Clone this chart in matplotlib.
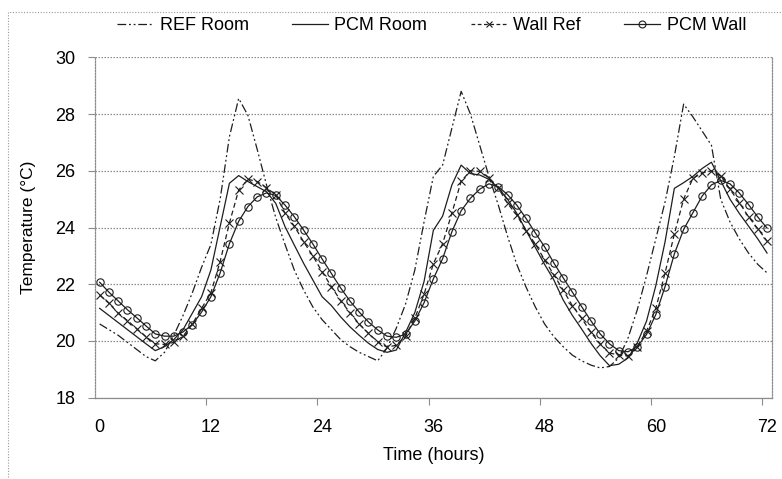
import matplotlib
matplotlib.use("Agg")
import matplotlib.pyplot as plt
from matplotlib.lines import Line2D
from matplotlib.patches import Rectangle

plt.rcParams['font.family'] = ['Liberation Sans', 'DejaVu Sans']

hours = list(range(73))

ref_room = [20.6, 20.4, 20.2, 19.95, 19.7, 19.45, 19.3, 19.6, 20.2, 20.9,
            21.7, 22.6, 23.4, 25.0, 27.2, 28.55, 27.95, 26.75, 25.5, 24.35,
            23.4, 22.5, 21.8, 21.2, 20.75, 20.4, 20.05, 19.8, 19.6, 19.45,
            19.3, 19.75, 20.45, 21.3, 22.5, 24.2, 25.8, 26.2, 27.5, 28.8,
            28.0, 26.9, 25.8, 24.8, 23.7, 22.7, 21.9, 21.2, 20.6, 20.15,
            19.8, 19.5, 19.3, 19.15, 19.05, 19.1, 19.4, 20.1, 21.1, 22.3,
            23.6, 24.9, 26.5, 28.35, 27.9, 27.4, 26.9, 25.0, 24.2, 23.6,
            23.1, 22.7, 22.4]

pcm_room = [21.15, 20.9, 20.65, 20.4, 20.15, 19.9, 19.66, 19.8, 20.05, 20.4,
            20.98, 21.56, 22.5, 24.03, 25.56, 25.83, 25.62, 25.44, 25.26, 24.85,
            24.03, 23.38, 22.74, 22.15, 21.56, 21.25, 20.85, 20.5, 20.2, 19.92,
            19.7, 19.6, 19.68, 20.3, 21.0, 22.1, 23.9, 24.4, 25.5, 26.2,
            25.9, 25.85, 25.7, 25.4, 25.0, 24.5, 23.9, 23.3, 22.7, 22.15,
            21.45, 20.9, 20.42, 19.92, 19.48, 19.13, 19.18, 19.4, 19.93, 20.7,
            21.95, 23.5, 25.38, 25.58, 25.8, 26.08, 26.3, 25.65, 25.0, 24.5,
            24.05, 23.6, 23.1]

wall_ref = [21.62, 21.33, 20.98, 20.72, 20.43, 20.15, 19.9, 19.88, 19.95, 20.17,
            20.6, 21.15, 21.7, 22.8, 24.16, 25.32, 25.7, 25.62, 25.4, 25.15,
            24.5, 24.05, 23.5, 23.0, 22.44, 21.92, 21.42, 21.0, 20.6, 20.27,
            19.97, 19.78, 19.85, 20.17, 20.8, 21.65, 22.72, 23.43, 24.51, 25.63,
            26.0, 25.98, 25.75, 25.4, 24.85, 24.44, 23.88, 23.42, 22.86, 22.33,
            21.8, 21.24, 20.8, 20.3, 19.9, 19.58, 19.5, 19.47, 19.8, 20.35,
            21.15, 22.4, 23.77, 25.0, 25.73, 25.92, 26.0, 25.82, 25.35, 24.88,
            24.38, 23.96, 23.52]

pcm_wall = [22.07, 21.72, 21.41, 21.1, 20.82, 20.53, 20.25, 20.17, 20.17, 20.32,
            20.58, 21.02, 21.56, 22.4, 23.43, 24.22, 24.74, 25.08, 25.22, 25.13,
            24.79, 24.38, 23.91, 23.42, 22.89, 22.38, 21.87, 21.41, 21.02, 20.67,
            20.39, 20.17, 20.13, 20.24, 20.7, 21.35, 22.19, 22.9, 23.85, 24.59,
            25.03, 25.35, 25.54, 25.44, 25.16, 24.79, 24.32, 23.81, 23.32, 22.75,
            22.23, 21.72, 21.21, 20.71, 20.25, 19.9, 19.66, 19.62, 19.8, 20.23,
            20.93, 21.92, 23.07, 23.93, 24.52, 25.11, 25.5, 25.66, 25.54, 25.22,
            24.81, 24.37, 23.98]

x_labels = [0, 12, 24, 36, 48, 60, 72]
y_ticks = [18, 20, 22, 24, 26, 28, 30]

ink = '#1e1e1e'
grid_col = '#8c8c8c'
dashdotdot = (0, (7, 2.2, 1.5, 2.2, 1.5, 2.2))

fig = plt.figure(figsize=(7.82, 4.79), dpi=100)
ax = fig.add_axes([0.1215, 0.1697, 0.8653, 0.7107])

ax.plot(hours, ref_room, color=ink, lw=0.9, ls=dashdotdot)
ax.plot(hours, pcm_room, color=ink, lw=0.9, ls='-')
ax.plot(hours, wall_ref, color=ink, lw=0.9, ls=(0, (4, 2.5)),
        marker='x', ms=5.5, mew=0.8)
ax.plot(hours, pcm_wall, color=ink, lw=0.9, ls='-',
        marker='o', ms=5.3, mfc='none', mew=0.8)

ax.set_xlim(-0.5, 72.5)
ax.set_ylim(18, 30)
ax.set_yticks(y_ticks)
ax.set_xticks(x_labels)
ax.set_xticks([h - 0.5 for h in x_labels[1:]], minor=True)
ax.tick_params(axis='x', which='major', length=0, pad=15, labelsize=13)
ax.tick_params(axis='x', which='minor', length=5, width=0.8, color=grid_col,
               direction='out')
ax.tick_params(axis='y', length=5, width=0.8, color=grid_col, pad=9,
               labelsize=13)

ax.grid(axis='y', color=grid_col, ls=(0, (1.2, 1.2)), lw=0.9)
for side in ['left', 'right']:
    ax.spines[side].set_color(grid_col)
    ax.spines[side].set_linestyle((0, (1.2, 1.2)))
    ax.spines[side].set_linewidth(0.9)
ax.spines['top'].set_visible(False)
ax.spines['bottom'].set_color(grid_col)
ax.spines['bottom'].set_linewidth(0.9)

ax.set_xlabel('Time (hours)', fontsize=13, labelpad=8)
ax.set_ylabel('Temperature (°C)', fontsize=12.5, labelpad=14)

handles = [
    Line2D([], [], color=ink, lw=0.9, ls=dashdotdot),
    Line2D([], [], color=ink, lw=0.9, ls='-'),
    Line2D([], [], color=ink, lw=0.9, ls=(0, (3, 2)), marker='x', ms=5, mew=0.8),
    Line2D([], [], color=ink, lw=0.9, ls='-', marker='o', ms=5, mfc='none', mew=0.8),
]
labels = ['REF Room', 'PCM Room', 'Wall Ref', 'PCM Wall']
fig.legend(handles, labels, loc='center', bbox_to_anchor=(0.552, 0.947),
           ncol=4, frameon=False, fontsize=13, handlelength=2.0,
           handletextpad=0.35, columnspacing=2.4, numpoints=1)

# chart area border of the scanned figure
fig.patches.append(Rectangle((8 / 782, -0.05), 1.0, 1 - 12 / 479 + 0.05,
                             transform=fig.transFigure, fill=False,
                             edgecolor='#999999', lw=0.8, ls=(0, (1, 1.5))))

fig.savefig('out.png', dpi=100)
